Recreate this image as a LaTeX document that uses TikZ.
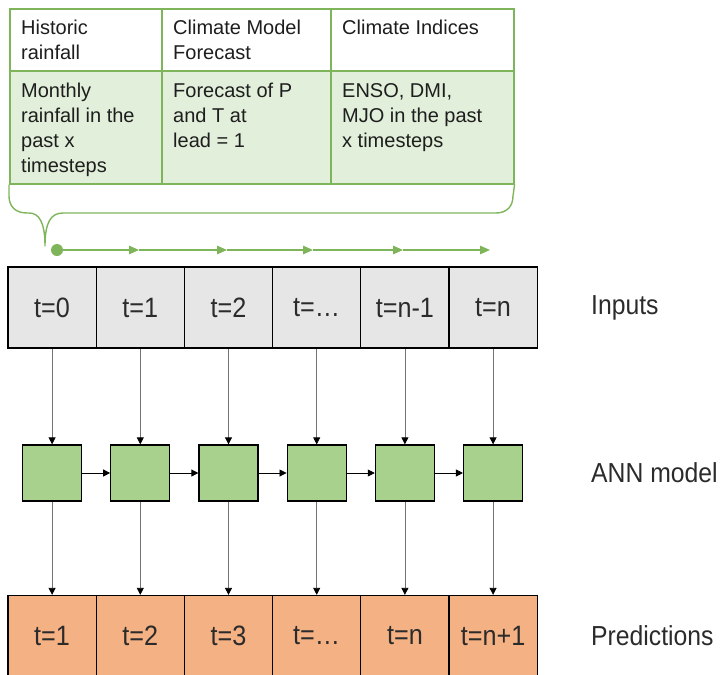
\documentclass[tikz,border=0pt]{standalone}
\usepackage{fontspec}
\setmainfont{Liberation Sans}
\newfontfamily\narrowsans[FakeStretch=0.9]{Liberation Sans}
\usetikzlibrary{arrows.meta}
\definecolor{tblgreen}{HTML}{7FB55A}
\definecolor{tblfill}{HTML}{E2EFDA}
\definecolor{inpfill}{HTML}{E6E6E6}
\definecolor{annfill}{HTML}{A9D18E}
\definecolor{predfill}{HTML}{F4B183}
\definecolor{ink}{HTML}{1E1E1E}
\definecolor{soft}{HTML}{2B2B2B}
\begin{document}
\begin{tikzpicture}[x=1pt, y=-1pt,
  tcell/.style={draw=tblgreen, line width=1.6pt, inner sep=0pt, anchor=north west},
  ttext/.style={anchor=north west, inner sep=0pt, align=left, text=ink,
    font=\fontsize{20}{25}\selectfont},
  seqcell/.style={draw=black, line width=1.3pt, minimum width=88.2pt, minimum height=81pt,
    inner sep=0pt, text=soft, font=\narrowsans\fontsize{28}{32}\selectfont},
  annbox/.style={draw=black, fill=annfill, line width=1.3pt, minimum width=59pt,
    minimum height=56pt, inner sep=0pt},
  flow/.style={draw=black!55, line width=0.8pt, -{Triangle[length=7pt,width=7pt,color=black]}},
  link/.style={draw=black, line width=0.8pt, -{Triangle[length=7pt,width=7pt]}},
  tline/.style={draw=tblgreen, line width=1.3pt, -{Triangle[length=10pt,width=8.5pt]}},
  rowlabel/.style={anchor=west, inner sep=0pt, text=soft, font=\narrowsans\fontsize{27.5}{30}\selectfont}
]
\useasboundingbox (0,0) rectangle (724,675);

% data table: header row and description row
\node[tcell, fill=white, minimum width=152pt, minimum height=62pt] (h1) at (9,8) {};
\node[tcell, fill=white, minimum width=169pt, minimum height=62pt] (h2) at (161,8) {};
\node[tcell, fill=white, minimum width=183pt, minimum height=62pt] (h3) at (330,8) {};
\node[tcell, fill=tblfill, minimum width=152pt, minimum height=113pt] (b1) at (9,70) {};
\node[tcell, fill=tblfill, minimum width=169pt, minimum height=113pt] (b2) at (161,70) {};
\node[tcell, fill=tblfill, minimum width=183pt, minimum height=113pt] (b3) at (330,70) {};

\node[ttext] (th1) at (21,19) {\rule{0pt}{15pt}Historic\\rainfall};
\node[ttext] (th2) at (173,19) {\rule{0pt}{15pt}Climate Model\\Forecast};
\node[ttext] (th3) at (342,19) {\rule{0pt}{15pt}Climate Indices};
\node[ttext] (tb1) at (21,82) {\rule{0pt}{15pt}Monthly\\rainfall in the\\past x\\timesteps};
\node[ttext] (tb2) at (173,82) {\rule{0pt}{15pt}Forecast of P\\and T at\\lead = 1};
\node[ttext] (tb3) at (342,82) {\rule{0pt}{15pt}ENSO, DMI,\\MJO in the past\\x timesteps};

% brace gathering the table into one input vector
\draw[tblgreen, line width=1.4pt, line join=round]
  (b1.south west) -- (9,196) .. controls (9,206) and (15,213) .. (27,213) -- (29,213)
  .. controls (39,213) and (45,222) .. (45,246)
  .. controls (45,222) and (51,213) .. (63,213) -- (496,213)
  .. controls (507,213) and (513,206) .. (513,196) -- (b3.south east);

% time line
\node[circle, fill=tblgreen, inner sep=0pt, minimum size=12pt] (dot) at (57,250) {};
\coordinate (a1) at (139,250);
\coordinate (a2) at (227,250);
\coordinate (a3) at (313,250);
\coordinate (a4) at (403,250);
\coordinate (a5) at (490,250);
\draw[tline] (dot) -- (a1);
\draw[tline] (a1) -- (a2);
\draw[tline] (a2) -- (a3);
\draw[tline] (a3) -- (a4);
\draw[tline] (a4) -- (a5);

% inputs, model cells and predictions
\foreach \i/\inp/\pred in {0/t=0/t=1, 1/t=1/t=2, 2/t=2/t=3, 3/t=\dots/t=\dots, 4/t=n-1/t=n, 5/t=n/t=n+1} {
  \node[seqcell, fill=inpfill] (in\i) at ({8+88.2*(\i+0.5)},307.5) {\inp};
  \node[annbox] (ann\i) at ({8+88.2*(\i+0.5)},473) {};
  \node[seqcell, fill=predfill] (pr\i) at ({8+88.2*(\i+0.5)},636) {\pred};
  \draw[flow] (in\i) -- (ann\i);
  \draw[flow] (ann\i) -- (pr\i);
}
\foreach \i/\j in {0/1, 1/2, 2/3, 3/4, 4/5} {
  \draw[link] (ann\i) -- (ann\j);
}

% row labels
\node[rowlabel] (linp) at (591,308) {Inputs};
\node[rowlabel] (lann) at (591,473) {ANN model};
\node[rowlabel] (lpred) at (591,636) {Predictions};
\end{tikzpicture}
\end{document}
